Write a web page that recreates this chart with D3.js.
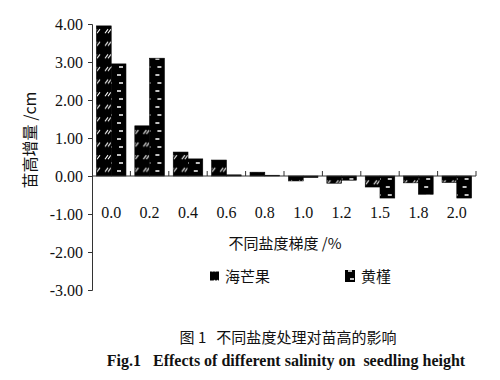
<!DOCTYPE html>
<html>
<head>
<meta charset="utf-8">
<script src="https://cdn.jsdelivr.net/npm/d3@7"></script>
<style>
  body { margin: 0; background: #fff; }
</style>
</head>
<body>
<svg width="500" height="380"></svg>
<script>
// salinity gradient (%)
const categories = ["0.0", "0.2", "0.4", "0.6", "0.8", "1.0", "1.2", "1.5", "1.8", "2.0"];
// seedling height increment (cm)
const haimangguo = [3.95, 1.32, 0.63, 0.42, 0.10, -0.13, -0.19, -0.29, -0.18, -0.17];
const huangjin = [2.95, 3.10, 0.45, 0.03, 0.02, -0.04, -0.11, -0.58, -0.48, -0.58];
const seriesNames = ["海芒果", "黄槿"];
const yTicks = [4, 3, 2, 1, 0, -1, -2, -3];

const serif = "'Liberation Serif', 'Times New Roman', serif";
const cjk = "'Noto Sans CJK SC', sans-serif";

const svg = d3.select("svg");

const x = d3.scaleBand()
    .domain(categories)
    .range([92, 476])
    .padding(0);

const x1 = d3.scaleBand()
    .domain(seriesNames)
    .range([0, x.bandwidth()])
    .paddingOuter(0.3)
    .paddingInner(0);

const y = d3.scaleLinear()
    .domain([-3, 4])
    .range([290, 24]);

// fill patterns
const defs = svg.append("defs");
const pDiag = defs.append("pattern")
    .attr("id", "diag")
    .attr("patternUnits", "userSpaceOnUse")
    .attr("width", 11).attr("height", 12.6);
pDiag.append("rect").attr("width", 11).attr("height", 12.6).attr("fill", "#000");
pDiag.append("path")
    .attr("d", "M2,8 L5,4 M5,8 L8,4")
    .attr("stroke", "#fff").attr("stroke-width", 1.1);

const pDash = defs.append("pattern")
    .attr("id", "dash")
    .attr("patternUnits", "userSpaceOnUse")
    .attr("width", 11).attr("height", 16);
pDash.append("rect").attr("width", 11).attr("height", 16).attr("fill", "#000");
pDash.append("path")
    .attr("d", "M5,3 L9,3 M3,11 L7,11")
    .attr("stroke", "#fff").attr("stroke-width", 1.4);

const fills = { "海芒果": "url(#diag)", "黄槿": "url(#dash)" };

// bars
const rows = categories.map((c, i) => ({ cat: c, values: [
    { name: "海芒果", v: haimangguo[i] },
    { name: "黄槿", v: huangjin[i] }
]}));

const groups = svg.append("g")
    .selectAll("g")
    .data(rows)
    .enter().append("g")
    .attr("transform", d => `translate(${x(d.cat)},0)`);

groups.selectAll("rect")
    .data(d => d.values)
    .enter().append("rect")
    .attr("x", d => x1(d.name))
    .attr("width", x1.bandwidth())
    .attr("y", d => y(Math.max(0, d.v)))
    .attr("height", d => Math.abs(y(d.v) - y(0)))
    .attr("fill", d => fills[d.name])
    .attr("stroke", "#000")
    .attr("stroke-width", 0.6);

// y axis
const yAxis = svg.append("g")
    .attr("transform", "translate(92,0)")
    .call(d3.axisLeft(y).tickValues(yTicks).tickFormat(d3.format(".2f")).tickSize(4).tickPadding(5));
yAxis.attr("font-family", serif).attr("font-size", 16);
yAxis.select(".domain").attr("stroke", "#333");
yAxis.selectAll(".tick line").attr("stroke", "#333");
yAxis.selectAll(".tick text")
    .attr("fill", "#111")
    .text(d => (d < 0 ? "-" : "") + d3.format(".2f")(Math.abs(d)));

// x axis on zero line, ticks pointing up at band edges
svg.append("line")
    .attr("x1", 92).attr("x2", 476)
    .attr("y1", y(0)).attr("y2", y(0))
    .attr("stroke", "#333");
svg.append("g")
    .selectAll("line")
    .data(categories)
    .enter().append("line")
    .attr("x1", d => x(d) + x.bandwidth())
    .attr("x2", d => x(d) + x.bandwidth())
    .attr("y1", y(0)).attr("y2", y(0) - 5)
    .attr("stroke", "#333");

svg.append("g")
    .selectAll("text")
    .data(categories)
    .enter().append("text")
    .attr("x", d => x(d) + x.bandwidth() / 2)
    .attr("y", 218)
    .attr("text-anchor", "middle")
    .style("font-family", serif)
    .style("font-size", "16px")
    .attr("fill", "#111")
    .text(d => d);

// axis titles
svg.append("text")
    .attr("transform", "translate(36,140) rotate(-90)")
    .attr("text-anchor", "middle")
    .style("font-family", cjk)
    .style("font-size", "16px")
    .attr("fill", "#111")
    .text("苗高增量 /cm");

svg.append("text")
    .attr("x", 285).attr("y", 249)
    .attr("text-anchor", "middle")
    .style("font-family", cjk)
    .style("font-size", "15px")
    .attr("fill", "#111")
    .text("不同盐度梯度 /%");

// legend
const legend = [
    { name: "海芒果", x: 210, w: 9, h: 9 },
    { name: "黄槿", x: 345, w: 10, h: 12 }
];
const lg = svg.append("g")
    .selectAll("g")
    .data(legend)
    .enter().append("g")
    .attr("transform", d => `translate(${d.x},276)`);
lg.append("rect")
    .attr("x", 0).attr("y", d => -d.h / 2)
    .attr("width", d => d.w).attr("height", d => d.h)
    .attr("fill", d => fills[d.name]);
lg.append("text")
    .attr("x", d => d.w + 6).attr("y", 5.5)
    .style("font-family", cjk)
    .style("font-size", "15px")
    .attr("fill", "#111")
    .text(d => d.name);

// caption
svg.append("text")
    .attr("x", 288).attr("y", 343)
    .attr("text-anchor", "middle")
    .style("font-family", cjk)
    .style("font-size", "15px")
    .attr("fill", "#111")
    .attr("xml:space", "preserve")
    .text("图 1   不同盐度处理对苗高的影响");

svg.append("text")
    .attr("x", 286).attr("y", 366)
    .attr("text-anchor", "middle")
    .style("font-family", serif)
    .style("font-size", "16px")
    .style("font-weight", "bold")
    .attr("fill", "#111")
    .attr("xml:space", "preserve")
    .text("Fig.1   Effects of different salinity on  seedling height");
</script>
</body>
</html>
